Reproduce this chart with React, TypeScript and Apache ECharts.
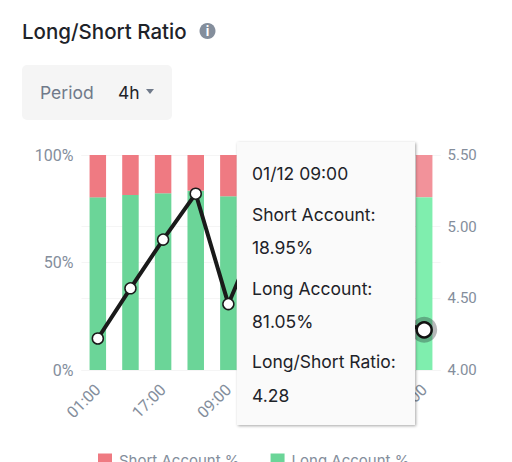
import React, { useEffect, useRef } from "react";
import * as echarts from "echarts";

const categories = ["01:00", "09:00", "17:00", "01:00", "09:00", "17:00", "01:00", "09:00", "17:00", "01:00", "09:00"];
const longPct = [80.3, 81.4, 82.2, 83.4, 80.8, 81.6, 81.0, 80.4, 80.9, 81.3, 80.4];
const shortPct = [19.7, 18.6, 17.8, 16.6, 19.2, 18.4, 19.0, 19.6, 19.1, 18.7, 19.6];
const ratio = [4.22, 4.57, 4.91, 5.23, 4.46, 5.0, 4.75, 4.4, 4.5, 4.35, 4.28];
const leftTicks = [0, 100];
const rightTicks = [4, 5.5];
const legendNames = ["Short Account %", "Long Account %"];
const tooltipLines = ["01/12 09:00", "Short Account:", "18.95%", "Long Account:", "81.05%", "Long/Short Ratio:", "4.28"];
const tooltipLineY = [173, 214, 247, 288, 321, 361, 395];

const FONT = "Inter, sans-serif";
const AXIS = "Roboto, sans-serif";
const RED = "#EF7A82";
const RED_HI = "#F2929A";
const GREEN = "#6BD598";
const GREEN_HI = "#7FEEAE";

export default function App() {
  const ref = useRef<HTMLDivElement>(null);
  useEffect(() => {
    const chart = echarts.init(ref.current!, null, { renderer: "svg" });
    const last = categories.length - 1;
    chart.setOption({
      animation: false,
      grid: { left: 81.5, right: 71.5, top: 155, bottom: 92 },
      legend: {
        data: legendNames,
        left: 93,
        top: 448,
        icon: "rect",
        itemWidth: 14,
        itemHeight: 14,
        itemGap: 31,
        textStyle: { color: "#848E9C", fontFamily: FONT, fontSize: 15, padding: [0, 0, 0, 2] },
      },
      xAxis: {
        type: "category",
        data: categories,
        axisLine: { show: false },
        axisTick: { show: false },
        axisLabel: { interval: 1, rotate: 45, color: "#848E9C", fontFamily: AXIS, fontSize: 16, margin: 17 },
      },
      yAxis: [
        {
          type: "value",
          min: leftTicks[0],
          max: leftTicks[1],
          interval: 50,
          axisLabel: { formatter: "{value}%", color: "#848E9C", fontFamily: AXIS, fontSize: 16, margin: 8 },
          splitLine: { lineStyle: { color: "#F5F5F5" } },
        },
        {
          type: "value",
          min: rightTicks[0],
          max: rightTicks[1],
          interval: 0.5,
          position: "right",
          axisLabel: { formatter: (v: number) => v.toFixed(2), color: "#848E9C", fontFamily: AXIS, fontSize: 15, margin: 7 },
          splitLine: { lineStyle: { color: "#F5F5F5" } },
        },
      ],
      series: [
        {
          name: legendNames[1],
          type: "bar",
          stack: "acc",
          barWidth: 16.5,
          itemStyle: { color: GREEN },
          data: longPct.map((v, i) => (i === last ? { value: v, itemStyle: { color: GREEN_HI } } : v)),
        },
        {
          name: legendNames[0],
          type: "bar",
          stack: "acc",
          barWidth: 16.5,
          itemStyle: { color: RED },
          data: shortPct.map((v, i) => (i === last ? { value: v, itemStyle: { color: RED_HI } } : v)),
        },
        {
          name: "halo",
          type: "scatter",
          yAxisIndex: 1,
          symbolSize: 26,
          z: 3,
          itemStyle: { color: "rgba(30,35,41,0.4)" },
          data: ratio.map((v, i) => (i === last ? v : null)),
        },
        {
          name: "Long/Short Ratio",
          type: "line",
          yAxisIndex: 1,
          z: 4,
          symbol: "circle",
          symbolSize: 11,
          showAllSymbol: true,
          lineStyle: { color: "#1A1A1A", width: 4 },
          itemStyle: { color: "#FFFFFF", borderColor: "#1A1A1A", borderWidth: 1.5 },
          data: ratio.map((v, i) =>
            i === last ? { value: v, symbolSize: 15, itemStyle: { color: "#FFFFFF", borderColor: "#111111", borderWidth: 2.5 } } : v
          ),
        },
      ],
      graphic: [
        { type: "text", x: 22, y: 31, z: 10, style: { text: "Long/Short Ratio", fill: "#1E2329", fontFamily: FONT, fontSize: 20.5, fontWeight: 500, verticalAlign: "middle" } },
        { type: "circle", z: 10, shape: { cx: 207.5, cy: 31, r: 8 }, style: { fill: "#848E9C" } },
        { type: "text", x: 207.5, y: 31, z: 11, style: { text: "i", fill: "#FFFFFF", fontFamily: FONT, fontSize: 13, fontWeight: 700, align: "center", verticalAlign: "middle" } },
        { type: "rect", z: 10, shape: { x: 22, y: 65, width: 150, height: 55, r: 5 }, style: { fill: "#F5F5F5" } },
        { type: "text", x: 40, y: 92, z: 11, style: { text: "Period", fill: "#707A8A", fontFamily: FONT, fontSize: 17.5, verticalAlign: "middle" } },
        { type: "text", x: 118, y: 92, z: 11, style: { text: "4h", fill: "#1E2329", fontFamily: FONT, fontSize: 17.5, verticalAlign: "middle" } },
        { type: "polygon", z: 11, shape: { points: [[146, 89], [154, 89], [150, 94]] }, style: { fill: "#707A8A" } },
        {
          type: "rect",
          z: 20,
          shape: { x: 237, y: 142, width: 178, height: 283 },
          style: { fill: "#FAFAFA", shadowBlur: 3, shadowColor: "rgba(0,0,0,0.35)", shadowOffsetX: 1, shadowOffsetY: 1 },
        },
        ...tooltipLines.map((t, i) => ({
          type: "text",
          x: 252,
          y: tooltipLineY[i],
          z: 21,
          style: { text: t, fill: "#1E2329", fontFamily: FONT, fontSize: 17.5, verticalAlign: "middle" },
        })),
      ],
    });
    return () => chart.dispose();
  }, []);
  return <div ref={ref} style={{ position: "absolute", left: 0, top: 0, width: 512, height: 462, overflow: "hidden" }} />;
}
